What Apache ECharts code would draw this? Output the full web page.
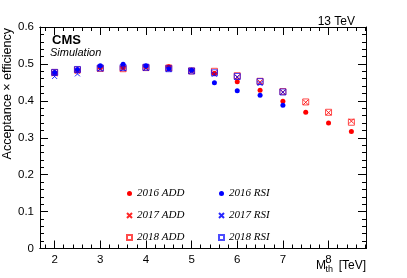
<!DOCTYPE html>
<html>
<head>
<meta charset="utf-8">
<script src="https://cdn.jsdelivr.net/npm/echarts@6/dist/echarts.min.js"></script>
<style>html,body{margin:0;padding:0;background:#fff}#c{width:407px;height:278px}</style>
</head>
<body>
<div id="c"></div>
<script>
// ---- data ----
var mass = [2, 2.5, 3, 3.5, 4, 4.5, 5, 5.5, 6, 6.5, 7, 7.5, 8, 8.5];
var add2016 = [0.476, 0.483, 0.490, 0.490, 0.492, 0.492, 0.483, 0.474, 0.452, 0.429, 0.399, 0.369, 0.340, 0.317];
var add2017 = [0.473, 0.480, 0.486, 0.487, 0.489, 0.488, 0.481, 0.476, 0.465, 0.451, 0.424, 0.396, 0.368, 0.345];
var add2018 = [0.477, 0.484, 0.488, 0.487, 0.490, 0.489, 0.481, 0.480, 0.468, 0.453, 0.425, 0.397, 0.369, 0.342];
var rsi2016 = [0.477, 0.485, 0.495, 0.499, 0.495, 0.487, 0.483, 0.449, 0.427, 0.415, 0.388];
var rsi2017 = [0.466, 0.473, 0.487, 0.488, 0.488, 0.485, 0.480, 0.472, 0.464, 0.447, 0.423];
var rsi2018 = [0.477, 0.485, 0.489, 0.490, 0.491, 0.487, 0.481, 0.476, 0.466, 0.452, 0.424];
var xMajorTicks = [2, 3, 4, 5, 6, 7, 8];
var yTicks = [0, 0.1, 0.2, 0.3, 0.4, 0.5, 0.6];

var xMin = 1.68, xMax = 8.82;
var xMinorTicks = [];
for (var t = 18; t <= 88; t += 2) xMinorTicks.push(t / 10);

function pairs(vals) {
  var out = [];
  for (var i = 0; i < vals.length; i++) if (vals[i] != null) out.push([mass[i], vals[i]]);
  return out;
}
var RED = '#ff0000', BLUE = '#0000ff';
var XPATH = 'path://M0,0L10,10M10,0L0,10';
function dotSeries(name, vals, col) {
  return {name: name, type: 'scatter', data: pairs(vals), symbol: 'circle', symbolSize: 5,
    itemStyle: {color: col, opacity: 1}, xAxisIndex: 0, yAxisIndex: 0};
}
function xSeries(name, vals, col) {
  return {name: name, type: 'scatter', data: pairs(vals), symbol: XPATH, symbolSize: 5,
    itemStyle: {color: 'transparent', borderColor: col, borderWidth: 1, opacity: 0.85}, xAxisIndex: 0, yAxisIndex: 0};
}
function sqSeries(name, vals, col) {
  return {name: name, type: 'scatter', data: pairs(vals), symbol: 'rect', symbolSize: 6,
    itemStyle: {color: 'transparent', borderColor: col, borderWidth: 1, opacity: 0.7}, xAxisIndex: 0, yAxisIndex: 0};
}

var FONT = 'Liberation Sans';
var axLine = {show: true, lineStyle: {color: '#000', width: 1}};
function xAx(pos, values, len, labels) {
  return {type: 'value', position: pos, min: xMin, max: xMax,
    axisLine: axLine, splitLine: {show: false},
    axisTick: {show: true, inside: true, length: len, customValues: values, lineStyle: {color: '#000'}},
    axisLabel: labels ? {show: true, customValues: xMajorTicks, fontFamily: FONT, fontSize: 11.5, color: '#000', margin: 5} : {show: false}
  };
}
function yAx(pos, labels) {
  return {type: 'value', position: pos, min: 0, max: 0.6, interval: 0.1,
    axisLine: axLine, splitLine: {show: false},
    axisTick: {show: true, inside: true, length: 8, lineStyle: {color: '#000'}},
    minorTick: {show: true, splitNumber: 5, length: 4, lineStyle: {color: '#000'}},
    axisLabel: labels ? {show: true, fontFamily: FONT, fontSize: 11.5, color: '#000', margin: 6,
      formatter: function (v) { return (Math.round(v * 10) / 10).toString(); }} : {show: false}
  };
}

var legendText = {fontFamily: 'Liberation Serif', fontStyle: 'italic', fontSize: 11, color: '#000'};
var chart = echarts.init(document.getElementById('c'), null, {renderer: 'canvas'});
chart.setOption({
  animation: false,
  backgroundColor: '#fff',
  grid: {left: 40, right: 41, top: 27, bottom: 29.5, containLabel: false},
  xAxis: [xAx('bottom', xMajorTicks, 8, true), xAx('bottom', xMinorTicks, 4, false),
          xAx('top', xMajorTicks, 8, false), xAx('top', xMinorTicks, 4, false)],
  yAxis: [yAx('left', true), yAx('right', false)],
  legend: [
    {data: ['2016 ADD', '2017 ADD', '2018 ADD'], orient: 'vertical', left: 121, top: 183, itemGap: 11,
     itemWidth: 5, itemHeight: 5, selectedMode: false, textStyle: legendText},
    {data: ['2016 RSI', '2017 RSI', '2018 RSI'], orient: 'vertical', left: 213, top: 183, itemGap: 11,
     itemWidth: 5, itemHeight: 5, selectedMode: false, textStyle: legendText}
  ],
  series: [
    dotSeries('2016 ADD', add2016, RED),
    xSeries('2017 ADD', add2017, RED),
    sqSeries('2018 ADD', add2018, RED),
    dotSeries('2016 RSI', rsi2016, BLUE),
    xSeries('2017 RSI', rsi2017, BLUE),
    sqSeries('2018 RSI', rsi2018, BLUE)
  ],
  graphic: [
    {type: 'text', x: 355, y: 16, style: {text: '13 TeV', align: 'right', verticalAlign: 'top',
      font: '12px "Liberation Sans"', fill: '#000'}},
    {type: 'text', x: 52, y: 34, style: {text: 'CMS', align: 'left', verticalAlign: 'top',
      font: 'bold 13px "Liberation Sans"', fill: '#000'}},
    {type: 'text', x: 50, y: 47.5, style: {text: 'Simulation', align: 'left', verticalAlign: 'top',
      font: 'italic 11px "Liberation Sans"', fill: '#000'}},
    {type: 'text', x: 8, y: 28, rotation: Math.PI / 2, style: {text: 'Acceptance \u00d7 efficiency',
      align: 'right', verticalAlign: 'middle', font: '12.5px "Liberation Sans"', fill: '#000'}},
    {type: 'text', x: 366, y: 260, style: {text: '[TeV]', align: 'right', verticalAlign: 'top',
      font: '12px "Liberation Sans"', fill: '#000'}},
    {type: 'text', x: 316, y: 260, style: {text: 'M', align: 'left', verticalAlign: 'top',
      font: '12px "Liberation Sans"', fill: '#000'}},
    {type: 'text', x: 325.5, y: 265, style: {text: 'th', align: 'left', verticalAlign: 'top',
      font: '9px "Liberation Sans"', fill: '#000'}}
  ]
});
</script>
</body>
</html>
